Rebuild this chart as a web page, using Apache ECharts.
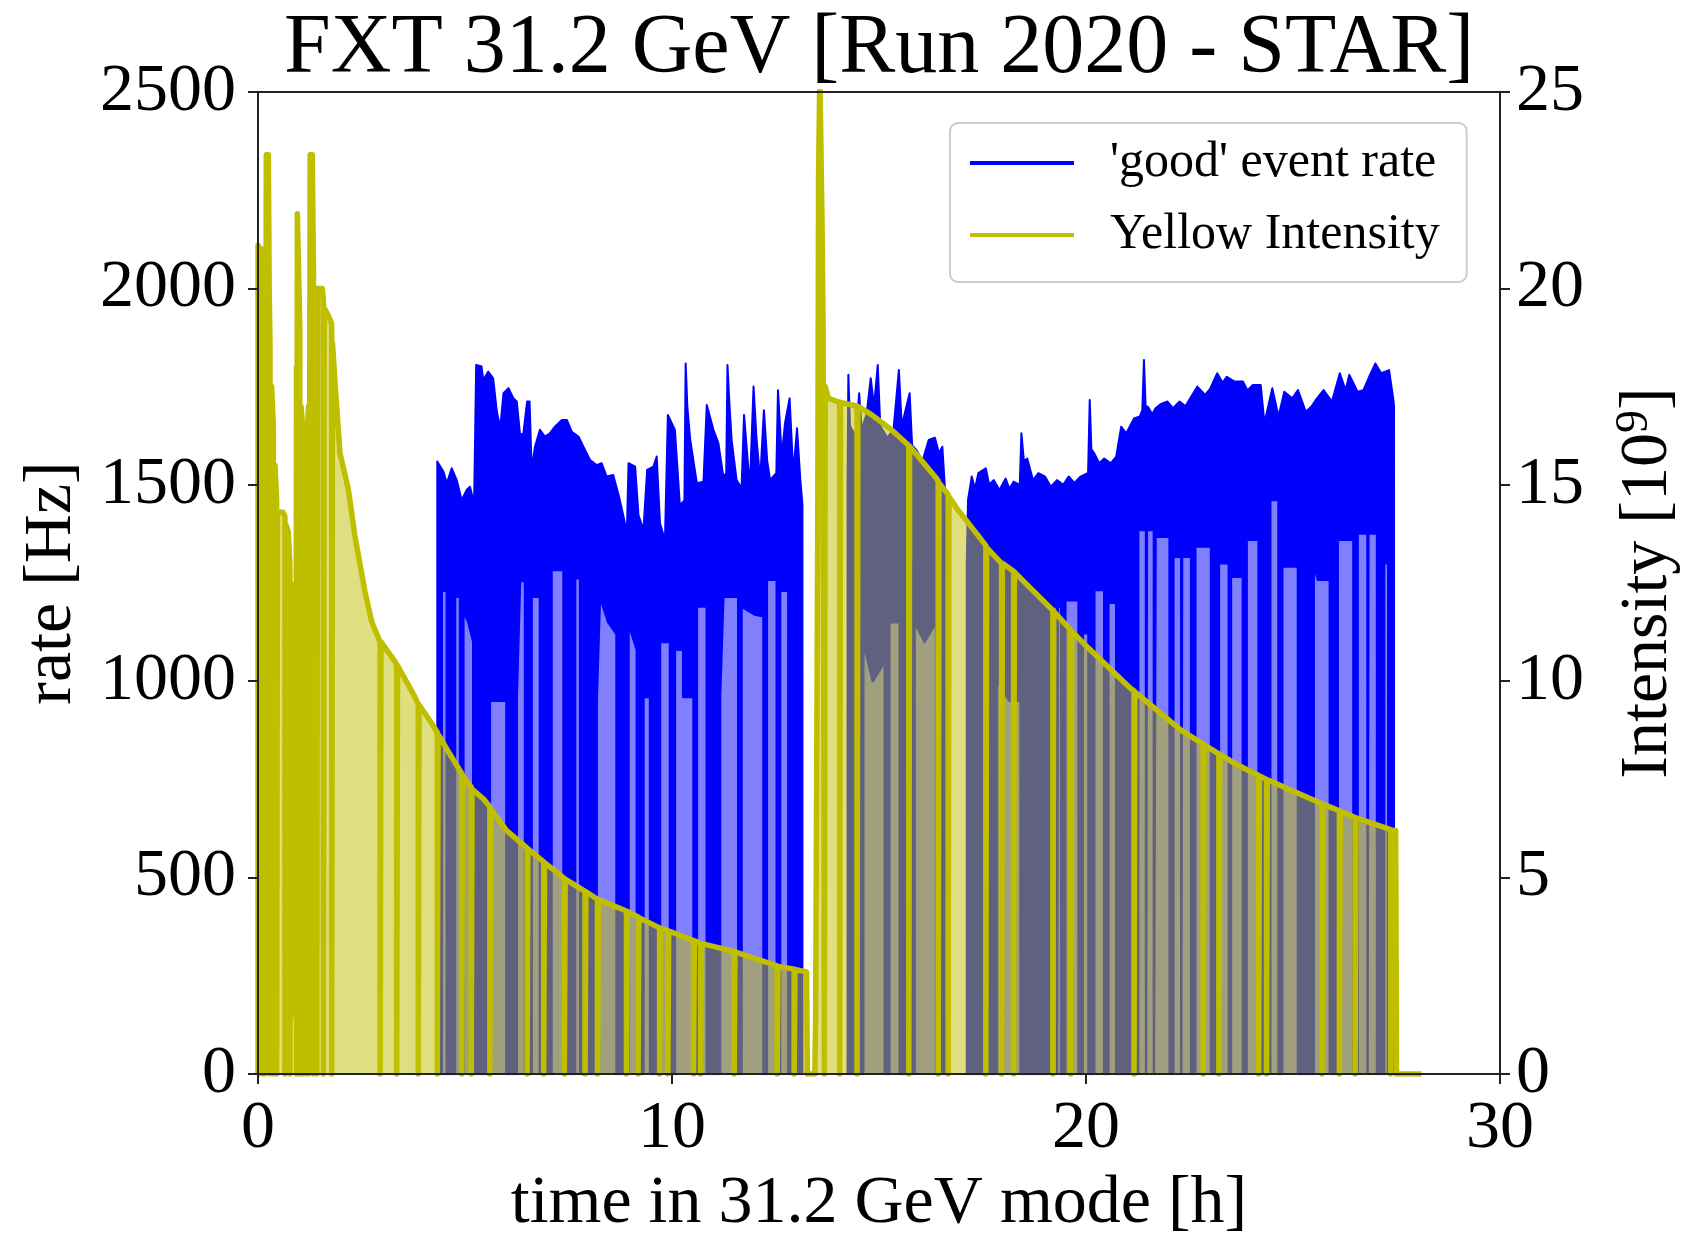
<!DOCTYPE html>
<html>
<head>
<meta charset="utf-8">
<title>FXT 31.2 GeV [Run 2020 - STAR]</title>
<script src="https://cdn.jsdelivr.net/npm/echarts@6.0.0/dist/echarts.min.js"></script>
<style>
html,body{margin:0;padding:0;background:#ffffff;}
#chart{width:1684px;height:1233px;}
</style>
</head>
<body>
<div id="chart"></div>
<script>
// ---------------- text ----------------
const chartTitle = "FXT 31.2 GeV [Run 2020 - STAR]";
const xAxisTitle = "time in 31.2 GeV mode [h]";
const rateAxisTitle = "rate [Hz]";
const intensityAxisTitle = "Intensity [10{sup|9}]";
const rateName = "'good' event rate";
const intensityName = "Yellow Intensity";

// ---------------- ticks ----------------
const xTicks = [0, 10, 20, 30];
const rateTicks = [0, 500, 1000, 1500, 2000, 2500];
const intensityTicks = [0, 5, 10, 15, 20, 25];

// ---------------- 'good' event rate [Hz]: upper edge of the dense band ----------------
const rateTopA = [[4.33,0],[4.33,1559],[4.48,1533],[4.56,1504],[4.68,1542],[4.8,1512],[4.92,1461],[5.04,1487],[5.12,1495],[5.22,1453],[5.27,1805],[5.4,1801],[5.44,1767],[5.56,1788],[5.68,1771],[5.77,1686],[5.85,1644],[5.93,1733],[6.05,1746],[6.17,1720],[6.25,1712],[6.33,1627],[6.41,1631],[6.5,1712],[6.56,1712],[6.61,1538],[6.69,1597],[6.81,1640],[6.93,1623],[7.05,1631],[7.17,1648],[7.34,1665],[7.46,1665],[7.58,1635],[7.74,1623],[7.86,1597],[8.02,1563],[8.18,1550],[8.3,1555],[8.42,1521],[8.58,1525],[8.71,1474],[8.83,1419],[8.91,1377],[8.95,1555],[9.11,1546],[9.19,1423],[9.31,1385],[9.4,1538],[9.55,1546],[9.63,1572],[9.71,1402],[9.83,1359],[9.9,1678],[10.07,1640],[10.19,1448],[10.3,1460],[10.33,1809],[10.37,1700],[10.44,1614],[10.6,1504],[10.76,1508],[10.84,1703],[11.0,1640],[11.12,1606],[11.24,1521],[11.31,1530],[11.34,1805],[11.39,1700],[11.44,1614],[11.56,1512],[11.68,1491],[11.74,1678],[11.8,1600],[11.88,1491],[11.97,1750],[12.04,1620],[12.13,1512],[12.22,1690],[12.3,1560],[12.37,1512],[12.52,1530],[12.56,1741],[12.65,1572],[12.73,1657],[12.84,1720],[12.93,1529],[13.02,1644],[13.1,1512],[13.15,1450],[13.15,0]];
const rateTopB = [[14.24,0],[14.24,1500],[14.26,1780],[14.3,1650],[14.45,1620],[14.52,1733],[14.58,1640],[14.7,1680],[14.8,1771],[14.88,1700],[14.97,1805],[15.03,1650],[15.2,1620],[15.35,1640],[15.48,1792],[15.55,1650],[15.74,1733],[15.8,1600],[15.9,1589],[16.05,1560],[16.2,1614],[16.35,1620],[16.45,1580],[16.53,1597],[16.6,1478],[16.6,0]];
const rateTopC = [[17.12,0],[17.12,1300],[17.15,1461],[17.24,1521],[17.32,1490],[17.4,1530],[17.58,1542],[17.66,1500],[17.77,1512],[17.91,1487],[18.06,1516],[18.15,1490],[18.25,1508],[18.4,1500],[18.44,1631],[18.5,1560],[18.58,1567],[18.72,1512],[18.85,1530],[19.01,1521],[19.15,1495],[19.3,1512],[19.45,1500],[19.58,1521],[19.72,1505],[19.87,1521],[20.05,1530],[20.09,1716],[20.13,1590],[20.2,1580],[20.32,1555],[20.44,1567],[20.6,1555],[20.73,1572],[20.85,1648],[20.97,1631],[21.16,1669],[21.3,1674],[21.36,1690],[21.4,1818],[21.44,1700],[21.49,1699],[21.6,1680],[21.68,1695],[21.8,1705],[21.97,1712],[22.1,1695],[22.26,1712],[22.4,1700],[22.54,1724],[22.69,1750],[22.88,1729],[23.0,1745],[23.17,1784],[23.3,1760],[23.4,1775],[23.59,1763],[23.79,1763],[23.9,1740],[24.03,1754],[24.22,1754],[24.31,1657],[24.5,1746],[24.65,1674],[24.79,1737],[24.98,1720],[25.12,1741],[25.31,1686],[25.45,1700],[25.55,1716],[25.74,1741],[25.94,1712],[26.13,1784],[26.27,1741],[26.36,1780],[26.56,1737],[26.7,1741],[26.84,1775],[26.99,1809],[27.13,1784],[27.32,1792],[27.42,1720],[27.44,1700],[27.44,0]];

// ---------------- 'good' event rate [Hz]: lower edge of the dense band, with drop-outs to 0 ----------------
const rateLowA = [[4.33,0],[4.44,0],[4.44,1230],[4.56,1230],[4.56,0],[4.76,0],[4.76,1215],[4.88,1215],[4.88,0],[4.96,0],[4.96,1180],[5.08,1150],[5.2,1100],[5.2,0],[5.6,0],[5.6,950],[6.0,950],[6.0,0],[6.25,0],[6.25,960],[6.33,1255],[6.45,1255],[6.45,0],[6.61,0],[6.61,1215],[6.81,1215],[6.81,0],[7.09,0],[7.09,1283],[7.38,1283],[7.38,0],[7.66,0],[7.66,1262],[7.78,1262],[7.78,0],[8.18,0],[8.18,950],[8.26,1215],[8.46,1150],[8.66,1120],[8.66,0],[8.95,0],[8.95,1147],[9.15,1080],[9.15,0],[9.31,0],[9.31,960],[9.47,960],[9.47,0],[9.71,0],[9.71,1100],[9.95,1100],[9.95,0],[10.07,0],[10.07,1080],[10.27,1080],[10.27,960],[10.52,960],[10.52,0],[10.6,0],[10.6,1190],[10.84,1190],[10.84,0],[11.16,0],[11.16,960],[11.24,1215],[11.6,1215],[11.6,0],[11.68,0],[11.68,1190],[12.0,1170],[12.21,1165],[12.21,0],[12.29,0],[12.29,1258],[12.53,1258],[12.53,0],[12.61,0],[12.61,1230],[12.81,1230],[12.81,0],[13.15,0]];
const rateLowB = [[14.24,0],[14.62,0],[14.62,1100],[14.85,1000],[15.14,1050],[15.14,0],[15.25,0],[15.25,1150],[15.5,1150],[15.5,0],[15.86,0],[15.86,1150],[16.1,1100],[16.38,1150],[16.38,0],[16.6,0]];
const rateLowC = [[17.12,0],[17.85,0],[17.85,1000],[18.15,950],[18.42,950],[18.42,0],[19.2,0],[19.2,1190],[19.3,1190],[19.3,0],[19.32,1190],[19.4,1190],[19.4,0],[19.5,0],[19.5,1206],[19.82,1206],[19.82,0],[19.92,0],[19.92,1122],[20.06,1122],[20.06,0],[20.2,0],[20.2,1232],[20.44,1232],[20.44,0],[20.54,0],[20.54,1200],[20.73,1200],[20.73,0],[21.26,0],[21.26,1385],[21.45,1385],[21.45,0],[21.47,1385],[21.64,1385],[21.64,0],[21.68,0],[21.68,1368],[22.02,1368],[22.02,0],[22.11,0],[22.11,1317],[22.3,1317],[22.3,0],[22.32,1317],[22.54,1317],[22.54,0],[22.64,0],[22.64,1343],[23.02,1343],[23.02,0],[23.21,0],[23.21,1300],[23.45,1300],[23.45,0],[23.5,0],[23.5,1266],[23.79,1266],[23.79,0],[23.88,0],[23.88,1360],[24.17,1360],[24.17,0],[24.45,0],[24.45,1461],[24.65,1461],[24.65,0],[24.74,0],[24.74,1292],[25.12,1292],[25.12,0],[25.5,0],[25.5,1300],[25.6,1258],[25.89,1258],[25.89,0],[26.08,0],[26.08,1360],[26.46,1360],[26.46,0],[26.56,0],[26.56,1376],[26.8,1376],[26.8,0],[26.82,1376],[27.03,1376],[27.03,0],[27.2,0],[27.2,1300],[27.3,1300],[27.3,0],[27.44,0]];

// ---------------- Yellow Intensity [10^9], with drop-outs to 0 ----------------
const intensityFirstStore = [[0,0],[0,21.1],[0.05,21.0],[0.05,0],[0.09,0],[0.09,21.0],[0.13,20.5],[0.13,0],[0.15,0],[0.15,20.6],[0.17,20.8],[0.17,0],[0.2,0],[0.2,23.4],[0.25,23.4],[0.27,20.0],[0.29,18.5],[0.29,0],[0.33,0],[0.33,17.5],[0.37,16.5],[0.37,0],[0.41,0],[0.41,15.5],[0.45,14.6],[0.45,0],[0.47,0],[0.47,14.3],[0.6,14.3],[0.65,14.2],[0.65,0],[0.67,0],[0.67,14.0],[0.73,13.8],[0.77,13.0],[0.77,0],[0.79,0],[0.79,12.5],[0.85,11.8],[0.88,11.5],[0.88,1.5],[0.9,1.5],[0.92,8.0],[0.93,18.0],[0.93,0],[0.95,0],[0.95,21.9],[0.99,21.9],[1.01,19.0],[1.01,0],[1.04,0],[1.04,17.0],[1.07,16.6],[1.07,0],[1.09,0],[1.1,16.2],[1.1,0],[1.13,0],[1.13,16.0],[1.18,15.5],[1.18,0],[1.2,0],[1.2,16.5],[1.22,17.0],[1.22,0],[1.25,0],[1.26,23.4],[1.31,23.4],[1.34,20.5],[1.34,0],[1.36,0],[1.36,20.0],[1.42,20.0],[1.42,0],[1.44,0],[1.44,20.0],[1.55,20.0],[1.58,19.7],[1.58,0],[1.6,0],[1.6,19.5],[1.7,19.3],[1.78,19.1],[1.78,0],[1.8,0],[1.8,18.6],[1.86,17.6],[1.98,15.8],[2.18,14.9],[2.34,13.7],[2.58,12.3],[2.75,11.5],[2.91,11.1],[2.95,11.0],[2.95,0],[2.97,0],[2.97,11.0],[3.31,10.5],[3.35,10.4],[3.35,0],[3.37,0],[3.37,10.4],[3.79,9.6],[3.87,9.4],[3.87,0],[3.89,0],[3.89,9.4],[4.15,9.0],[4.33,8.7],[4.33,0],[4.35,0],[4.35,8.65],[4.6,8.2],[4.92,7.65],[4.92,0],[4.94,0],[4.94,7.6],[5.15,7.3],[5.15,0],[5.17,0],[5.17,7.25],[5.45,7.0],[5.6,6.8],[5.6,0],[5.62,0],[5.62,6.75],[6.0,6.2],[6.5,5.75],[6.5,0],[6.52,0],[6.52,5.73],[6.9,5.4],[6.9,0],[6.92,0],[6.92,5.38],[7.4,4.98],[7.4,0],[7.42,0],[7.42,4.96],[7.9,4.65],[7.9,0],[7.92,0],[7.92,4.64],[8.2,4.45],[8.2,0],[8.22,0],[8.22,4.44],[8.9,4.15],[8.9,0],[8.92,0],[8.92,4.14],[9.18,4.0],[9.18,0],[9.2,0],[9.2,3.98],[9.7,3.72],[9.7,0],[9.72,0],[9.72,3.71],[9.9,3.65],[9.9,0],[9.92,0],[9.92,3.64],[10.52,3.4],[10.52,0],[10.54,0],[10.54,3.39],[10.69,3.33],[10.69,0],[10.71,0],[10.71,3.32],[11.5,3.12],[11.5,0],[11.52,0],[11.52,3.11],[12.54,2.75],[12.54,0],[12.56,0],[12.56,2.74],[12.95,2.67],[12.95,0],[12.97,0],[12.97,2.66],[13.25,2.6],[13.27,0]];
const intensitySecondStore = [[13.27,0],[13.45,0],[13.47,1.5],[13.5,1.5],[13.52,14.0],[13.54,22.8],[13.57,25.5],[13.6,25.5],[13.62,22.0],[13.65,19.0],[13.68,0],[13.7,0],[13.7,17.5],[13.78,17.2],[14.05,17.1],[14.05,0],[14.07,0],[14.07,17.1],[14.47,17.0],[14.47,0],[14.49,0],[14.49,17.0],[14.8,16.8],[15.3,16.4],[15.72,16.0],[15.72,0],[15.74,0],[15.74,15.98],[16.36,15.2],[16.43,15.1],[16.43,0],[16.45,0],[16.45,15.05],[16.67,14.75],[16.67,0],[16.69,0],[16.69,14.7],[16.88,14.4],[17.4,13.7],[17.58,13.45],[17.58,0],[17.6,0],[17.6,13.4],[17.96,13.0],[17.96,0],[17.98,0],[17.98,13.0],[18.25,12.8],[18.25,0],[18.27,0],[18.27,12.78],[18.44,12.6],[19.2,11.8],[19.2,0],[19.22,0],[19.22,11.78],[19.63,11.3],[19.63,0],[19.65,0],[19.65,11.28],[20.0,10.9],[21.04,9.85],[21.16,9.75],[21.16,0],[21.18,0],[21.18,9.73],[22.3,8.75],[22.83,8.4],[22.83,0],[22.85,0],[22.85,8.38],[23.21,8.15],[23.21,0],[23.23,0],[23.23,8.14],[23.6,7.9],[24.17,7.6],[24.17,0],[24.19,0],[24.19,7.59],[24.36,7.5],[24.36,0],[24.38,0],[24.38,7.49],[24.9,7.25],[25.7,6.88],[25.7,0],[25.72,0],[25.72,6.87],[26.12,6.7],[26.12,0],[26.14,0],[26.14,6.69],[26.5,6.53],[26.5,0],[26.52,0],[26.52,6.52],[27.36,6.22],[27.36,0],[27.38,0],[27.38,6.21],[27.48,6.2],[27.5,0],[28.1,0]];

// ---------------- build ----------------
const intensity = intensityFirstStore.concat(intensitySecondStore.slice(1));

const FONT = '"Liberation Serif", "Times New Roman", serif';
const BLUE = '#0000ff';
const LIGHT_BLUE = '#8080ff';
const YELLOW = '#bfbf00';
const AXIS = '#222222';

const chart = echarts.init(document.getElementById('chart'), null, { renderer: 'canvas', width: 1684, height: 1233 });

const axisCommon = {
  axisLine: { show: true, onZero: false, lineStyle: { color: AXIS, width: 2 } },
  axisTick: { show: true, inside: false, length: 10, lineStyle: { color: AXIS, width: 2 } },
  splitLine: { show: false },
  z: 10
};
const plainNumber = function (v) { return String(v); };

function rateSeries(data, fill, width, z) {
  return {
    name: rateName, type: 'line', xAxisIndex: 0, yAxisIndex: 0,
    data: data, symbol: 'none', showSymbol: false, silent: true, z: z,
    lineStyle: { color: BLUE, width: width, join: 'round' },
    itemStyle: { color: BLUE },
    areaStyle: { color: fill, opacity: 1 }
  };
}

const series = [
  rateSeries(rateTopA, BLUE, 2, 2), rateSeries(rateTopB, BLUE, 2, 2), rateSeries(rateTopC, BLUE, 2, 2),
  rateSeries(rateLowA, LIGHT_BLUE, 2.5, 3), rateSeries(rateLowB, LIGHT_BLUE, 2.5, 3), rateSeries(rateLowC, LIGHT_BLUE, 2.5, 3),
  {
    name: intensityName, type: 'line', xAxisIndex: 0, yAxisIndex: 1,
    data: intensity, symbol: 'none', showSymbol: false, silent: true, z: 4,
    lineStyle: { color: YELLOW, width: 5.5, join: 'round' },
    itemStyle: { color: YELLOW },
    areaStyle: { color: YELLOW, opacity: 0.5 }
  }
];

chart.setOption({
  animation: false,
  backgroundColor: '#ffffff',
  title: {
    text: chartTitle,
    left: 279,
    top: 3,
    textStyle: { fontFamily: FONT, fontSize: 84, fontWeight: 'normal', color: '#000' }
  },
  grid: {
    left: 258, right: 184, top: 92, bottom: 159,
    containLabel: false, outerBoundsMode: 'none',
    show: true, borderColor: AXIS, borderWidth: 2, backgroundColor: 'transparent', z: 10
  },
  legend: {
    orient: 'vertical',
    left: 950, top: 123,
    padding: [15, 27, 22, 20],
    itemGap: 22,
    itemWidth: 104,
    itemHeight: 4,
    icon: 'rect',
    backgroundColor: 'rgba(255,255,255,0.8)',
    borderColor: '#cccccc', borderWidth: 2, borderRadius: 8,
    textStyle: { fontFamily: FONT, fontSize: 50, color: '#000', padding: [0, 0, 0, 31] },
    data: [rateName, intensityName],
    selectedMode: false,
    z: 20
  },
  xAxis: [Object.assign({}, axisCommon, {
    type: 'value',
    min: xTicks[0], max: xTicks[xTicks.length - 1], interval: xTicks[1] - xTicks[0],
    axisLabel: { fontFamily: FONT, fontSize: 68, color: '#000', margin: 21, formatter: plainNumber },
    name: xAxisTitle, nameLocation: 'middle', nameGap: 96,
    nameTextStyle: { fontFamily: FONT, fontSize: 68, color: '#000' }
  })],
  yAxis: [
    Object.assign({}, axisCommon, {
      type: 'value', position: 'left',
      min: rateTicks[0], max: rateTicks[rateTicks.length - 1], interval: rateTicks[1] - rateTicks[0],
      axisLabel: { fontFamily: FONT, fontSize: 68, color: '#000', margin: 22, formatter: plainNumber },
      name: rateAxisTitle, nameLocation: 'middle', nameGap: 172, nameRotate: 90,
      nameTextStyle: { fontFamily: FONT, fontSize: 68, color: '#000' }
    }),
    Object.assign({}, axisCommon, {
      type: 'value', position: 'right',
      min: intensityTicks[0], max: intensityTicks[intensityTicks.length - 1], interval: intensityTicks[1] - intensityTicks[0],
      axisLabel: { fontFamily: FONT, fontSize: 68, color: '#000', margin: 16, formatter: plainNumber },
      name: intensityAxisTitle, nameLocation: 'middle', nameGap: 112, nameRotate: 90,
      nameTextStyle: {
        fontFamily: FONT, fontSize: 68, color: '#000',
        rich: { sup: { fontFamily: FONT, fontSize: 46, color: '#000', verticalAlign: 'top', padding: [0, 0, 26, 0] } }
      }
    })
  ],
  series: series
});
</script>
</body>
</html>
